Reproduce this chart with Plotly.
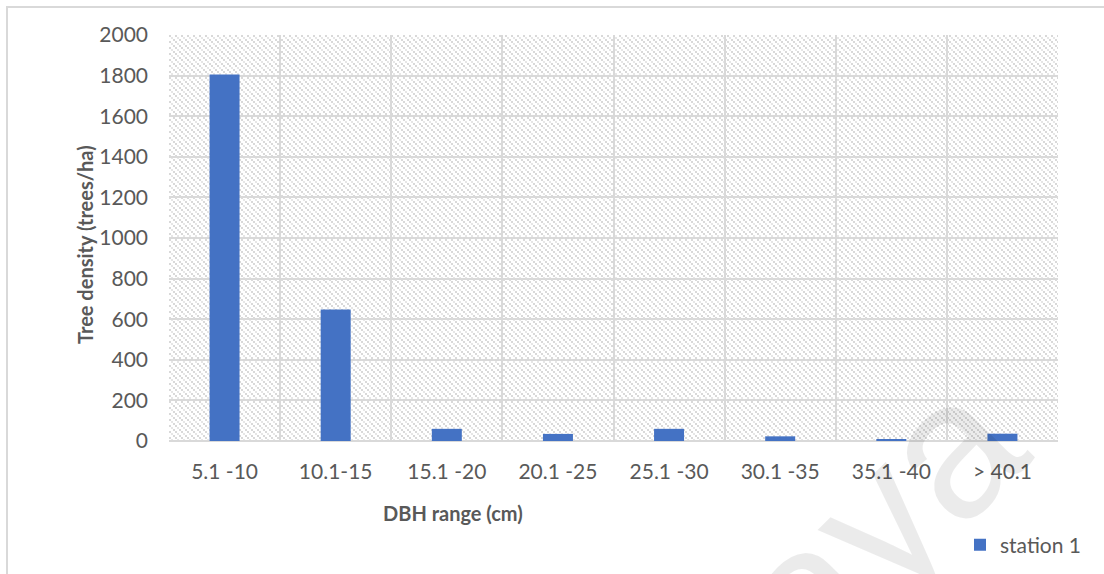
import base64
import plotly.graph_objects as go

# DBH classes and stem density for station 1
dbh_classes = ["5.1 -10", "10.1-15", "15.1 -20", "20.1 -25", "25.1 -30", "30.1 -35", "35.1 -40", "> 40.1"]
tree_density = [1805, 648, 60, 35, 60, 23, 10, 36]
series_name = "station 1"
y_ticks = [0, 200, 400, 600, 800, 1000, 1200, 1400, 1600, 1800, 2000]

W, H = 1104, 574
L, R, T, B = 169, 1058, 35, 441  # plot area in pixels
PW, PH = R - L, B - T

TEXT = "#595959"
GRID = "#d9d9d9"
FONT = "Lato"


def px_x(p):
    return (p - L) / PW


def px_y(p):
    return (B - p) / PH


# light downward-diagonal hatch for the plot background
hatch_svg = f"""<svg xmlns='http://www.w3.org/2000/svg' width='{PW}' height='{PH}' shape-rendering='crispEdges'>
<defs><pattern id='h' width='6' height='6' patternUnits='userSpaceOnUse'>
<rect width='6' height='6' fill='#ffffff'/>
<rect x='0' y='0' width='2' height='2' fill='#d9d9d9'/>
<rect x='2' y='2' width='2' height='2' fill='#e6e6e6'/>
<rect x='4' y='4' width='2' height='2' fill='#d9d9d9'/>
</pattern></defs>
<rect width='{PW}' height='{PH}' fill='url(#h)'/>
</svg>"""
hatch_uri = "data:image/svg+xml;base64," + base64.b64encode(hatch_svg.encode()).decode()

fig = go.Figure()
fig.add_trace(go.Bar(
    x=dbh_classes,
    y=tree_density,
    name=series_name,
    marker=dict(color="#4472C4", line=dict(width=0)),
    showlegend=True,
))

fig.update_layout(
    width=W,
    height=H,
    margin=dict(l=L, r=W - R, t=T, b=H - B, pad=0, autoexpand=False),
    paper_bgcolor="white",
    plot_bgcolor="rgba(0,0,0,0)",
    font=dict(family=FONT, size=21, color=TEXT),
    bargap=0.73,
    showlegend=True,
    legend=dict(
        x=px_x(960), y=px_y(545), xanchor="left", yanchor="middle",
        font=dict(family=FONT, size=21, color=TEXT),
        bgcolor="rgba(0,0,0,0)",
    ),
    images=[dict(
        source=hatch_uri, xref="paper", yref="paper",
        x=0, y=1, sizex=1, sizey=1, sizing="stretch", layer="below",
    )],
    xaxis=dict(
        type="category",
        tickson="boundaries",
        showgrid=True, gridcolor=GRID, gridwidth=1.5,
        showline=False, ticks="", ticklabelstandoff=16,
        tickfont=dict(family=FONT, size=21, color=TEXT),
        range=[-0.5, 7.5],
    ),
    yaxis=dict(
        range=[0, 2000],
        tickvals=y_ticks,
        showgrid=True, gridcolor=GRID, gridwidth=1.5,
        zeroline=True, zerolinecolor=GRID, zerolinewidth=1.5,
        showline=False, ticks="", ticklabelstandoff=20,
        tickfont=dict(family=FONT, size=21, color=TEXT),
    ),
    shapes=[dict(
        type="rect", xref="paper", yref="paper",
        x0=px_x(7), x1=px_x(W + 10), y0=px_y(H + 10), y1=px_y(7),
        line=dict(color=GRID, width=2), fillcolor="rgba(0,0,0,0)", layer="below",
    )],
    annotations=[
        dict(
            text="<b>Tree density (trees/ha)</b>", xref="paper", yref="paper",
            x=px_x(85), y=px_y(245), textangle=-90, showarrow=False,
            xanchor="center", yanchor="middle",
            font=dict(family=FONT, size=20, color=TEXT),
        ),
        dict(
            text="<b>DBH range (cm)</b>", xref="paper", yref="paper",
            x=px_x(453), y=px_y(513), showarrow=False,
            xanchor="center", yanchor="middle",
            font=dict(family=FONT, size=20, color=TEXT),
        ),
        # repository watermark
        dict(
            text="Malaya", xref="paper", yref="paper",
            x=px_x(765), y=px_y(632), textangle=-45, showarrow=False,
            xanchor="center", yanchor="middle",
            font=dict(family="Liberation Sans", size=195, color="rgba(0,0,0,0.08)"),
        ),
    ],
)

fig.write_html("out.html")
